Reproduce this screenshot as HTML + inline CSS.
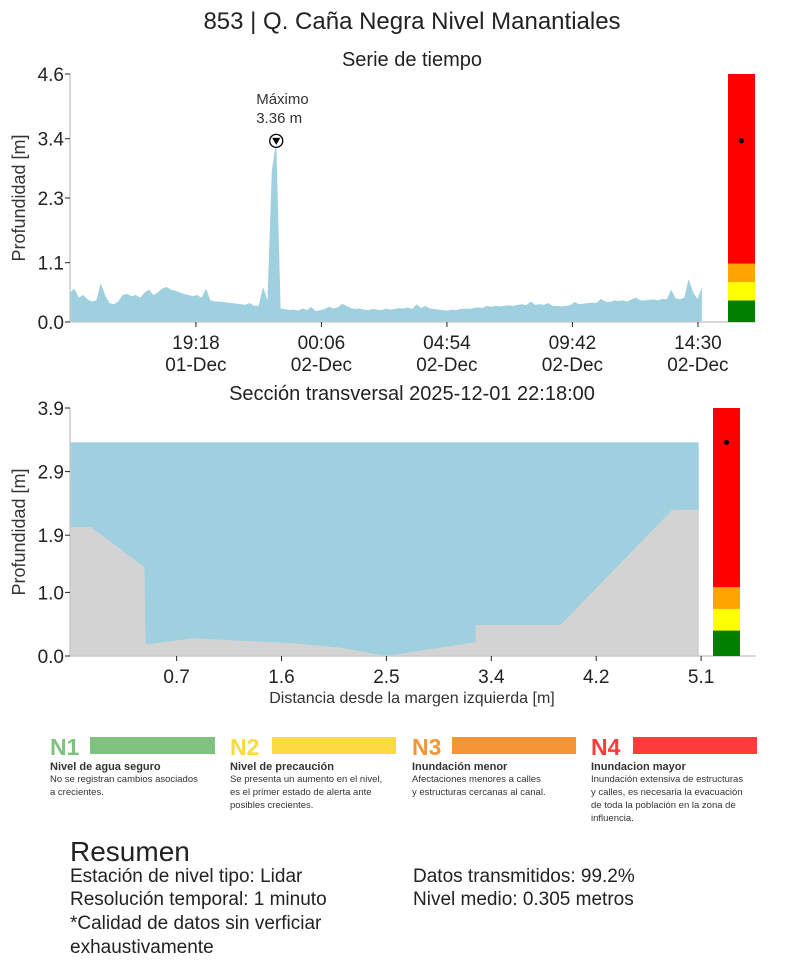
<!DOCTYPE html>
<html><head><meta charset="utf-8">
<style>
body{margin:0;background:#fff;font-family:"Liberation Sans",sans-serif;color:#222}
svg text{font-family:"Liberation Sans",sans-serif}
</style></head>
<body>
<svg width="809" height="969" viewBox="0 0 809 969" xmlns="http://www.w3.org/2000/svg">
<text x="412" y="29" font-size="24" text-anchor="middle" fill="#222">853 | Q. Caña Negra Nivel Manantiales</text>
<text x="412" y="66" font-size="20" text-anchor="middle" fill="#222">Serie de tiempo</text>
<g id="ts"></g>
<text x="412" y="400" font-size="20" text-anchor="middle" fill="#222">Sección transversal 2025-12-01 22:18:00</text>
<g id="xs"></g>
<text x="412" y="703" font-size="16" text-anchor="middle" fill="#333">Distancia desde la margen izquierda [m]</text>

<g>
<text x="50" y="755" font-size="23" font-weight="bold" fill="#7fc17f">N1</text>
<rect x="90" y="737" width="125" height="17" fill="#7fc17f"/>
<text x="50" y="770" font-size="11" font-weight="bold" fill="#333">Nivel de agua seguro</text>
<text x="50" y="782" font-size="9.5" fill="#333">No se registran cambios asociados</text>
<text x="50" y="795" font-size="9.5" fill="#333">a crecientes.</text>
</g>
<g>
<text x="230" y="755" font-size="23" font-weight="bold" fill="#f9db3f">N2</text>
<rect x="272" y="737" width="124" height="17" fill="#f9db3f"/>
<text x="230" y="770" font-size="11" font-weight="bold" fill="#333">Nivel de precaución</text>
<text x="230" y="782" font-size="9.5" fill="#333">Se presenta un aumento en el nivel,</text>
<text x="230" y="795" font-size="9.5" fill="#333">es el primer estado de alerta ante</text>
<text x="230" y="808" font-size="9.5" fill="#333">posibles crecientes.</text>
</g>
<g>
<text x="412" y="755" font-size="23" font-weight="bold" fill="#f39535">N3</text>
<rect x="452" y="737" width="124" height="17" fill="#f39535"/>
<text x="412" y="770" font-size="11" font-weight="bold" fill="#333">Inundación menor</text>
<text x="412" y="782" font-size="9.5" fill="#333">Afectaciones menores a calles</text>
<text x="412" y="795" font-size="9.5" fill="#333">y estructuras cercanas al canal.</text>
</g>
<g>
<text x="591" y="755" font-size="23" font-weight="bold" fill="#ff3b3b">N4</text>
<rect x="633" y="737" width="124" height="17" fill="#ff3b3b"/>
<text x="591" y="770" font-size="11" font-weight="bold" fill="#333">Inundacion mayor</text>
<text x="591" y="782" font-size="9.5" fill="#333">Inundación extensiva de estructuras</text>
<text x="591" y="795" font-size="9.5" fill="#333">y calles, es necesaria la evacuación</text>
<text x="591" y="808" font-size="9.5" fill="#333">de toda la población en la zona de</text>
<text x="591" y="821" font-size="9.5" fill="#333">influencia.</text>
</g>

<g fill="#222">
<text x="70" y="861" font-size="28">Resumen</text>
<text x="70" y="882" font-size="19">Estación de nivel tipo: Lidar</text>
<text x="70" y="905" font-size="19">Resolución temporal: 1 minuto</text>
<text x="70" y="929" font-size="19">*Calidad de datos sin verficiar</text>
<text x="70" y="953" font-size="19">exhaustivamente</text>
<text x="413" y="882" font-size="19">Datos transmitidos: 99.2%</text>
<text x="413" y="905" font-size="19">Nivel medio: 0.305 metros</text>
</g>
</svg>
<script>
// ---- time series data (10-min samples from 14:29 01-Dec) ----
const tsValues=[0.55,0.62,0.45,0.5,0.42,0.38,0.4,0.72,0.5,0.35,0.33,0.38,0.5,
0.52,0.48,0.5,0.45,0.55,0.6,0.5,0.55,0.62,0.65,0.6,0.58,0.55,0.52,0.5,
0.48,0.5,0.45,0.62,0.4,0.38,0.38,0.37,0.36,0.35,0.34,0.33,0.32,0.35,0.3,0.3,
0.65,0.4,2.8,3.36,0.25,0.24,0.22,0.23,0.21,0.25,0.22,0.28,0.2,0.22,0.24,0.28,
0.25,0.27,0.34,0.3,0.26,0.24,0.25,0.23,0.22,0.24,0.23,0.22,0.25,0.23,0.24,0.26,
0.25,0.27,0.24,0.33,0.26,0.3,0.25,0.24,0.23,0.22,0.21,0.23,0.22,0.24,0.25,0.24,
0.26,0.27,0.26,0.3,0.28,0.3,0.29,0.3,0.31,0.3,0.32,0.33,0.31,0.38,0.32,0.33,0.32,
0.35,0.3,0.3,0.29,0.3,0.31,0.37,0.33,0.34,0.35,0.36,0.35,0.43,0.38,0.37,0.4,0.39,
0.4,0.38,0.42,0.45,0.4,0.4,0.41,0.42,0.4,0.43,0.42,0.6,0.44,0.42,0.45,0.8,0.55,0.43,0.65];
const tsTickLabels=["19:18","00:06","04:54","09:42","14:30"];
const tsTickDates=["01-Dec","02-Dec","02-Dec","02-Dec","02-Dec"];
const tsTickMinutes=[289,577,865,1153,1441];
const tsYTicks=[0.0,1.1,2.3,3.4,4.6];
const tsMax=3.36;
const alertLevels=[0.4,0.74,1.08];
// ---- cross section data ----
const xsDist=[-0.17,0.0,0.45,0.46,0.86,1.7,2.1,2.48,3.23,3.23,3.94,4.88,5.1];
const xsGround=[2.03,2.03,1.4,0.18,0.28,0.2,0.13,0.0,0.22,0.49,0.49,2.3,2.3];
const xsWater=3.36;
const xsXTicks=[0.72,1.6,2.48,3.36,4.24,5.12];
const xsYTicks=[0.0,1.0,1.9,2.9,3.9];

const NS="http://www.w3.org/2000/svg";
function mk(p,t,a){const e=document.createElementNS(NS,t);for(const k in a)e.setAttribute(k,a[k]);p.appendChild(e);return e;}
function txt(p,x,y,s,size,anchor){const e=mk(p,'text',{x:x,y:y,'font-size':size,'text-anchor':anchor||'start',fill:'#222'});e.textContent=s;return e;}

function levelBar(g,x,w,yS,top){
  const segs=[[0,alertLevels[0],'#008000','level-green'],[alertLevels[0],alertLevels[1],'#ffff00','level-yellow'],[alertLevels[1],alertLevels[2],'#ffa500','level-orange']];
  const r=mk(g,'rect',{x:x,y:top,width:w,height:yS(alertLevels[2])-top,fill:'#ff0000'});
  
  
  segs.forEach(s=>{const e=mk(g,'rect',{x:x,y:yS(s[1]),width:w,height:yS(s[0])-yS(s[1]),fill:s[2]});
    
    });
  const d=mk(g,'circle',{cx:x+w/2,cy:yS(tsMax),r:2.5,fill:'#000'});
  
  
}

// ---- time series ----
(function(){
  const g=document.getElementById('ts');
  const x0=70,y0=322,y1=74,pxPerMin=125.5/288;
  const xS=m=>x0+m*pxPerMin, yS=v=>y0-(v/4.6)*(y0-y1);
  const n=tsValues.length, step=(n*10)/(n-1);
  let d='M'+xS(0)+','+y0;
  tsValues.forEach((v,i)=>{d+=' L'+xS(i*step)+','+yS(v);});
  d+=' L'+xS((n-1)*step)+','+y0+'Z';
  const a=mk(g,'path',{d:d,fill:'#9ed0e0'});
  
  
  mk(g,'line',{x1:x0,y1:y1,x2:x0,y2:y0,stroke:'#ccc','stroke-width':1.5});
  mk(g,'line',{x1:x0,y1:y0,x2:756,y2:y0,stroke:'#ccc','stroke-width':1.5});
  tsYTicks.forEach(v=>{mk(g,'line',{x1:x0-5,y1:yS(v),x2:x0,y2:yS(v),stroke:'#222'});
    const t=txt(g,x0-6,yS(v)+7,v.toFixed(1),19,'end');
    
    });
  tsTickMinutes.forEach((m,i)=>{const x=xS(m);mk(g,'line',{x1:x,y1:y0,x2:x,y2:y0+5,stroke:'#222'});
    const t=txt(g,x,y0+27,tsTickLabels[i],19,'middle');
    
    
    txt(g,x,y0+49,tsTickDates[i],19,'middle');});
  const yt=txt(g,0,0,'Profundidad [m]',18,'middle');yt.setAttribute('transform','translate(25,198) rotate(-90)');yt.setAttribute('fill','#333');
  
  
  let im=0;tsValues.forEach((v,i)=>{if(v>tsValues[im])im=i;});
  const px=xS(im*step),py=yS(tsMax);
  const c=mk(g,'circle',{cx:px,cy:py,r:6.5,fill:'#fff',stroke:'#000','stroke-width':1.3});
  
  
  mk(g,'path',{d:`M${px-4},${py-3} L${px+4},${py-3} L${px},${py+4}Z`,fill:'#000'});
  const m1=txt(g,px-20,py-37,'Máximo',15);m1.setAttribute('fill','#333');
  
  
  const m2=txt(g,px-20,py-18,tsMax.toFixed(2)+' m',15);m2.setAttribute('fill','#333');
  levelBar(g,728,27,yS,y1);
})();

// ---- cross section ----
(function(){
  const g=document.getElementById('xs');
  const y0=656,y1=408,xS=d=>90.8+d*119.2,yS=v=>y0-(v/3.9)*(y0-y1);
  const w=mk(g,'rect',{x:70,y:yS(xsWater),width:xS(xsDist[xsDist.length-1])-70,height:y0-yS(xsWater),fill:'#9ed0e0'});
  
  
  let d='M70,'+y0;
  xsDist.forEach((x,i)=>{d+=' L'+Math.max(70,xS(x))+','+yS(xsGround[i]);});
  d+=' L'+xS(xsDist[xsDist.length-1])+','+y0+'Z';
  const gr=mk(g,'path',{d:d,fill:'#d3d3d3'});
  
  
  mk(g,'line',{x1:70,y1:y1,x2:70,y2:y0,stroke:'#ccc','stroke-width':1.5});
  mk(g,'line',{x1:70,y1:y0,x2:756,y2:y0,stroke:'#ccc','stroke-width':1.5});
  xsYTicks.forEach(v=>{mk(g,'line',{x1:65,y1:yS(v),x2:70,y2:yS(v),stroke:'#222'});
    const t=txt(g,64,yS(v)+7,v.toFixed(1),19,'end');
    
    });
  xsXTicks.forEach(v=>{const x=xS(v);mk(g,'line',{x1:x,y1:y0,x2:x,y2:y0+5,stroke:'#222'});
    const t=txt(g,x,y0+27,v.toFixed(1),19,'middle');
    
    });
  const yt=txt(g,0,0,'Profundidad [m]',18,'middle');yt.setAttribute('transform','translate(25,532) rotate(-90)');yt.setAttribute('fill','#333');
  
  
  levelBar(g,713,27,yS,y1);
})();
</script>
</body></html>
